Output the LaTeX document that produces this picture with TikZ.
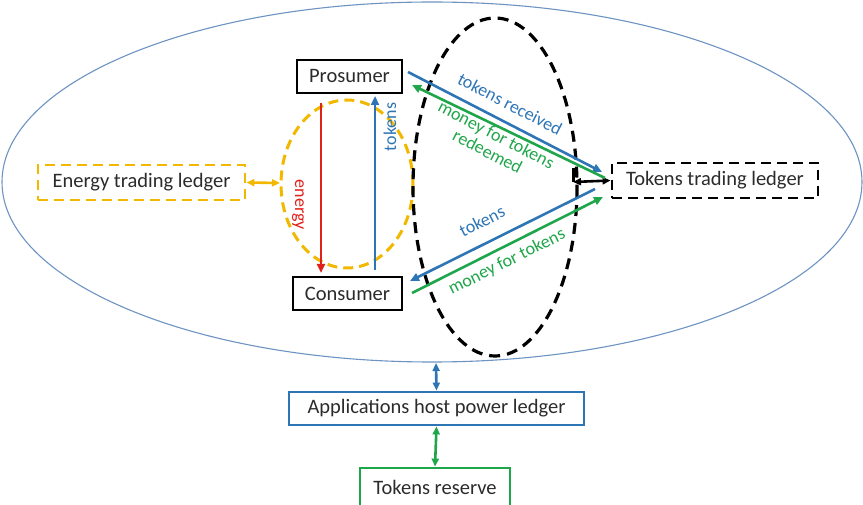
\documentclass[tikz,border=0pt]{standalone}
\usepackage{fontspec}
\setmainfont{Carlito}
\usetikzlibrary{arrows.meta}
\definecolor{cblue}{HTML}{2E75B6}
\definecolor{cgreen}{HTML}{1FA64A}
\definecolor{cred}{HTML}{E0201B}
\definecolor{cyel}{HTML}{F2B800}
\definecolor{cell}{HTML}{6D93C2}
\definecolor{ctext}{HTML}{2B2B2B}
\begin{document}
\begin{tikzpicture}[x=1pt,y=-1pt,
  every node/.style={font=\fontsize{20.5}{24}\selectfont,text=ctext},
  box/.style={draw,line width=2.8pt,minimum height=33pt,inner xsep=4pt},
  arr/.style={line width=2.6pt,-{Triangle[length=9pt,width=8pt]}},
  darr/.style={line width=2.6pt,{Triangle[length=8pt,width=7pt]}-{Triangle[length=8pt,width=7pt]}},
  lbl/.style={font=\fontsize{18}{19}\selectfont}]
\useasboundingbox (0,0) rectangle (863,505);
% big ellipse
\draw[cell,line width=1.1pt] (432,182) ellipse [x radius=430,y radius=180];
% dashed ellipses
\draw[cyel,dash pattern=on 10pt off 6pt,line width=3pt] (347,184) ellipse [x radius=66,y radius=84];
\draw[black,dash pattern=on 11pt off 7pt,line width=3.2pt] (495,187) ellipse [x radius=82,y radius=169];
% nodes
\node[box,fill=white,minimum width=105pt] (pro) at (349.5,76.5) {Prosumer};
\node[box,fill=white,minimum width=109pt] (con) at (347.5,293.5) {Consumer};
\node[box,draw=cyel,dash pattern=on 10pt off 6pt,minimum width=207pt,minimum height=35pt] (etl) at (141.5,182.5) {Energy trading ledger};
\node[box,draw=black,dash pattern=on 10pt off 6pt,minimum width=206pt,minimum height=35pt] (ttl) at (715,180.5) {Tokens trading ledger};
\node[box,draw=cblue,minimum width=295pt] (app) at (436.5,408.5) {Applications host power ledger};
\node[box,draw=cgreen,minimum width=150pt,minimum height=38pt] (res) at (435,487) {Tokens reserve};
% coordinates
\coordinate (eyl) at (280,183);
\coordinate (tkl) at (573,182);
\coordinate (ebot) at (436,363);
% vertical arrows
\draw[arr,cred] (321,103) -- (321,273);
\draw[arr,cblue] (375,270) -- (375,96);
\node[lbl,text=cred,rotate=-90] (en) at (298,205) {energy};
\node[lbl,text=cblue,rotate=90] (tk) at (390,127) {tokens};
% ledger connectors
\draw[darr,cyel] (etl.east) -- (eyl);
\draw[darr,black] (tkl) -- (ttl.west);
\draw[line width=3pt] (tkl) -- (573,168);
% diagonal arrows
\draw[arr,cblue] (408,72) -- (602,172);
\draw[arr,cgreen] (605,178) -- (412,85);
\draw[arr,cblue] (595,189) -- (410,281);
\draw[arr,cgreen] (412,293) -- (603,197);
\node[lbl,text=cblue,rotate=-27.3] (l1) at (510,104) {tokens received};
\node[lbl,text=cgreen,rotate=-27.3,align=center,inner sep=0pt] (l2) at (492,143) {money for tokens\\redeemed};
\node[lbl,text=cblue,rotate=26.5] (l3) at (482,221) {tokens};
\node[lbl,text=cgreen,rotate=26.5] (l4) at (507,262) {money for tokens};
% bottom arrows
\draw[darr,cblue] (ebot) -- (app.north);
\draw[darr,cgreen] (app.south) -- (res.north);
\end{tikzpicture}
\end{document}
